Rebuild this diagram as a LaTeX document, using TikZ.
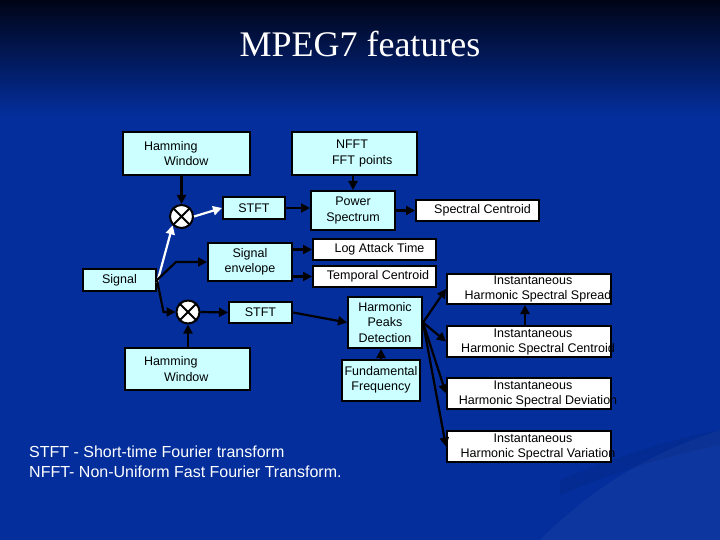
\documentclass[tikz,border=0pt]{standalone}
\usepackage{fontspec}
\setmainfont{Liberation Sans}
\newfontfamily\titlefont{Liberation Serif}
\usetikzlibrary{arrows.meta,calc}
\definecolor{bgblue}{RGB}{4,46,156}
\definecolor{bgtop}{RGB}{0,4,22}
\definecolor{boxcyan}{RGB}{204,255,255}
\begin{document}
\begin{tikzpicture}[x=1pt,y=-1pt,
  box/.style={draw=black,line width=2pt,fill=boxcyan,inner sep=0pt,
    font=\fontsize{12.5}{15.5}\selectfont,align=center},
  wbox/.style={box,fill=white},
  mult/.style={circle,draw=black,fill=white,line width=2pt,minimum size=23pt,inner sep=0pt},
  conn/.style={line width=2.2pt,draw=black,-{Triangle[length=9pt,width=9pt]}},
  wconn/.style={conn,draw=white},
  itext/.style={font=\fontsize{12.5}{15}\selectfont,align=center,inner sep=0pt,text=black}
]
\useasboundingbox (0,0) rectangle (720,540);
\fill[bgblue] (0,0) rectangle (720,540);
\shade[top color=bgtop,bottom color=bgblue] (0,0) rectangle (720,115);
\fill[white,opacity=0.04] (540,540) .. controls (600,480) and (660,450) .. (720,430) -- (720,540) -- cycle;
\fill[black,opacity=0.06] (560,480) .. controls (620,455) and (670,440) .. (720,430) -- (720,445) .. controls (670,455) and (620,470) .. (560,495) -- cycle;

% title
\node[font=\titlefont\fontsize{36}{40}\selectfont,text=white,anchor=base] (title) at (360,57) {MPEG7 features};

% boxes
\node[box,align=left,inner xsep=21pt,text width=85pt,minimum height=43pt] (hw1) at (186.5,153.5) {Hamming\\\hspace*{20pt}Window};
\node[box,align=left,inner xsep=20pt,text width=85pt,minimum height=43pt] (nfft) at (354.5,153.5) {\hspace*{24pt}NFFT\\\hspace*{20pt}FFT points};
\node[mult] (c1) at (181.5,216.5) {};
\node[box,minimum width=62pt,minimum height=22pt] (stft1) at (254,208) {STFT};
\node[box,minimum width=84pt,minimum height=39pt] (ps) at (353,210.5) {Power\\Spectrum};
\node[wbox,minimum width=123pt,minimum height=21pt] (sc) at (477.5,210.5) {\hspace*{10pt}Spectral Centroid};
\node[box,minimum width=84pt,minimum height=38pt] (env) at (250,262) {Signal\\envelope};
\node[wbox,minimum width=123pt,minimum height=21pt] (lat) at (374.5,249.5) {\hspace*{10pt}Log Attack Time};
\node[wbox,minimum width=123pt,minimum height=21pt] (tc) at (374.5,276.5) {\hspace*{7pt}Temporal Centroid};
\node[box,minimum width=73pt,minimum height=22pt] (sig) at (119.5,280) {Signal};
\node[mult] (c2) at (188,312) {};
\node[box,minimum width=63pt,minimum height=21pt] (stft2) at (260.5,312.5) {STFT};
\node[box,align=left,inner xsep=19pt,text width=87pt,minimum height=42pt] (hw2) at (187.5,369) {Hamming\\\hspace*{20pt}Window};
\node[box,minimum width=74pt,minimum height=51pt] (hpd) at (385,322.5) {Harmonic\\Peaks\\Detection};
\node[box,minimum width=78pt,minimum height=41pt] (ff) at (381,380) {Fundamental\\Frequency};
\node[wbox,minimum width=164pt,minimum height=30pt] (isp) at (529,289) {};
\node[wbox,minimum width=164pt,minimum height=31pt] (isc) at (529,341.5) {};
\node[wbox,minimum width=164pt,minimum height=31pt] (isd) at (529,393.5) {};
\node[wbox,minimum width=164pt,minimum height=31pt] (isv) at (529,446.5) {};
\node[itext] (isptxt) at (538,289) {\hspace*{-10pt}Instantaneous\\Harmonic Spectral Spread};
\node[itext] (isctxt) at (538,341.5) {\hspace*{-10pt}Instantaneous\\Harmonic Spectral Centroid};
\node[itext] (isdtxt) at (538,393.5) {\hspace*{-10pt}Instantaneous\\Harmonic Spectral Deviation};
\node[itext] (isvtxt) at (538,446.5) {\hspace*{-10pt}Instantaneous\\Harmonic Spectral Variation};

% multiplier crosses
\foreach \c in {c1,c2}{
  \draw[line width=2pt] (\c.45) -- (\c.225) (\c.135) -- (\c.315);
}

% connectors
\draw[conn] (c1.north |- hw1.south) -- (c1.north);
\draw[wconn] (c1.east) -- (stft1.west);
\draw[wconn] ($(sig.east)+(0,3)$) -- (c1.225);
\draw[conn] (sig.east) -- ($(env.west)+(-31,0)$) -- (env.west);
\draw[conn] (sig.east) -- ($(c2.west)+(-12,0)$) -- (c2.west);
\draw[conn] (c2.south |- hw2.north) -- (c2.south);
\draw[conn] (c2.east) -- (stft2.west);
\draw[conn] (stft2.east) -- (hpd.west);
\draw[conn] (stft1.east) -- (stft1.east -| ps.west);
\draw[conn] (ps.north |- nfft.south) -- (ps.north);
\draw[conn] (ps.east) -- (sc.west);
\draw[conn] (env.east |- lat.west) -- (lat.west);
\draw[conn] (env.east |- tc.west) -- (tc.west);
\draw[conn] (ff.north) -- (ff.north |- hpd.south);
\draw[conn] (hpd.east) -- (isp.west);
\draw[conn] (hpd.east) -- (isc.west);
\draw[conn] (hpd.east) -- (isd.west);
\draw[conn] (hpd.east) -- (isv.west);
\draw[conn] ($(isc.north)+(-4,0)$) -- ($(isp.south)+(-4,0)$);

% footnote
\node[anchor=north west,align=left,inner sep=0pt,text=white,font=\fontsize{16}{19.5}\selectfont] (note) at (29,446)
  {STFT - Short-time Fourier transform\\NFFT- Non-Uniform Fast Fourier Transform.};
\end{tikzpicture}
\end{document}
